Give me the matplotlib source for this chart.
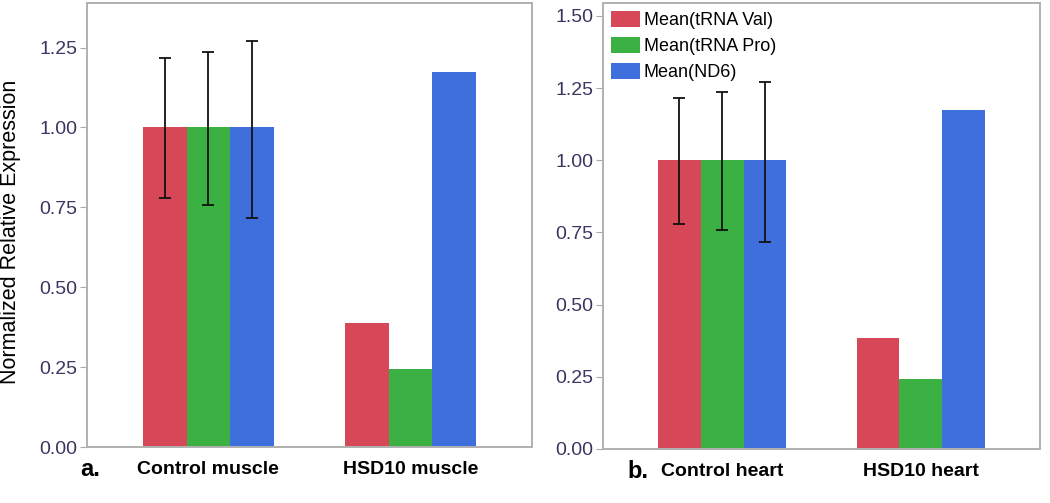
import numpy as np
import matplotlib.pyplot as plt

# data
groups_a = ['Control muscle', 'HSD10 muscle']
groups_b = ['Control heart', 'HSD10 heart']
series = ['Mean(tRNA Val)', 'Mean(tRNA Pro)', 'Mean(ND6)']
val_a = [[1.00, 0.388], [1.00, 0.243], [1.00, 1.175]]
val_b = [[1.00, 0.386], [1.00, 0.242], [1.00, 1.174]]
err_lo = [0.222, 0.242, 0.284]   # control only
err_hi = [0.217, 0.237, 0.272]
colores = ['#D64757', '#3BB043', '#3F6FDD']

plt.rcParams['font.family'] = ['Liberation Sans', 'DejaVu Sans']

fig = plt.figure(figsize=(10.5, 5.03), dpi=100)
ax1 = fig.add_axes([0.0829, 0.1113, 0.4238, 0.883])
ax2 = fig.add_axes([0.5743, 0.1074, 0.4162, 0.8867])

w = 0.215
x = np.arange(2)


def panel(ax, grupos, vals, ytop, yticks, letra, lx):
    for i in range(3):
        pos = x + (i - 1) * w
        ax.bar(pos, vals[i], width=w, color=colores[i], label=series[i])
        ax.errorbar(pos[0], vals[i][0], yerr=[[err_lo[i]], [err_hi[i]]],
                    fmt='none', ecolor='#111111', elinewidth=1.3,
                    capsize=4.5, capthick=1.3)
    ax.set_xlim(-0.6, 1.6)
    ax.set_ylim(0, ytop)
    ax.set_yticks(yticks)
    ax.set_yticklabels(['%.2f' % t for t in yticks])
    ax.set_xticks(x)
    ax.set_xticklabels(grupos, fontsize=14, fontweight='bold')
    ax.tick_params(axis='x', length=0, pad=10)
    ax.tick_params(axis='y', length=5, color='#aaaaaa', labelsize=14,
                   labelcolor='#3d3560', pad=2)
    for s in ax.spines.values():
        s.set_color('#b0b0b0')
        s.set_linewidth(1.4)
    ax.text(lx, -0.025, letra, transform=ax.transAxes, fontsize=17,
            fontweight='bold', ha='center', va='top')


panel(ax1, groups_a, val_a, 1.39, [0, 0.25, 0.5, 0.75, 1.0, 1.25], 'a.', 0.008)
panel(ax2, groups_b, val_b, 1.545, [0, 0.25, 0.5, 0.75, 1.0, 1.25, 1.5], 'b.', 0.08)

ax1.set_ylabel('Normalized Relative Expression', fontsize=15.5)
ax1.yaxis.set_label_coords(-0.148, 0.485)

ax2.legend(loc='upper left', frameon=False, fontsize=13, handlelength=1.6,
           handleheight=0.95, handletextpad=0.2, labelspacing=0.45,
           borderpad=0.1, borderaxespad=0.35)

fig.savefig('out.png', dpi=100)
